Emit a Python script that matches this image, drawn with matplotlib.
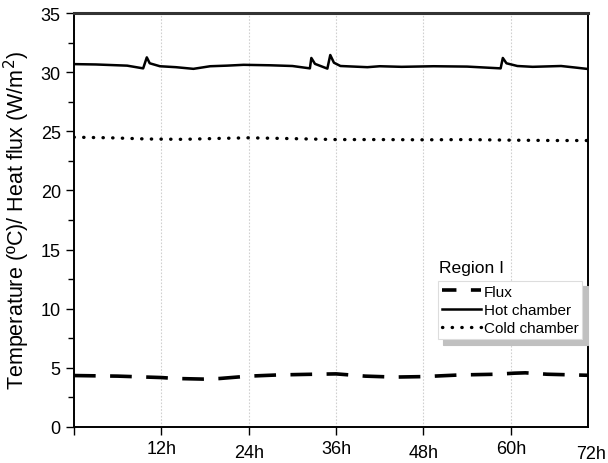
import matplotlib.pyplot as plt
from matplotlib.ticker import MultipleLocator
import matplotlib.transforms as mtransforms

plt.rcParams['font.family'] = ['Liberation Sans', 'DejaVu Sans']

# hot chamber temperature (degC), spikes are door openings
hot_t = [0, 3, 7.3, 9.5, 10.0, 10.4, 11.8, 14, 16.4, 18.7, 21, 23.3, 27, 30, 32.4, 32.6, 33.1, 34.8,
         35.2, 35.7, 36.6, 40.3, 42, 45, 49.4, 54, 58.6, 58.9, 59.4, 60.9, 63, 66.9, 69, 70.7]
hot_v = [30.68, 30.65, 30.55, 30.32, 31.25, 30.75, 30.5, 30.42, 30.28, 30.5, 30.55, 30.62, 30.58, 30.52,
         30.32, 31.2, 30.7, 30.3, 31.45, 30.8, 30.52, 30.42, 30.5, 30.45, 30.5, 30.47, 30.32, 31.2,
         30.75, 30.52, 30.45, 30.52, 30.38, 30.26]

# cold chamber temperature (degC)
cold_t = [0, 5, 10, 15, 20, 24, 30, 36, 42, 48, 54, 60, 66, 70.7]
cold_v = [24.5, 24.45, 24.35, 24.32, 24.4, 24.45, 24.38, 24.3, 24.3, 24.28, 24.3, 24.25, 24.22, 24.22]

# heat flux (W/m2)
flux_t = [0, 6, 12, 14, 17.7, 20, 24, 28, 32, 36, 40, 44, 48, 53, 58, 60.5, 62, 65, 70.7]
flux_v = [4.35, 4.3, 4.18, 4.1, 4.05, 4.1, 4.3, 4.4, 4.45, 4.49, 4.3, 4.22, 4.26, 4.4, 4.46, 4.55, 4.58,
          4.46, 4.37]

hour_ticks = [12, 24, 36, 48, 60]
hour_labels = ['12h', '24h', '36h', '48h', '60h']
x_end = 70.6

fig = plt.figure(figsize=(6.08, 4.64), dpi=100)
ax = fig.add_axes([0.1217, 0.0776, 0.8454, 0.8922])

ax.plot(flux_t, flux_v, color='black', lw=2.6, ls=(0, (6, 4)), label='Flux')
ax.plot(hot_t, hot_v, color='black', lw=1.8, ls='-', label='Hot chamber')
ax.plot(cold_t, cold_v, color='black', lw=2.4, ls=(0, (0.1, 2.8)), dash_capstyle='round', label='Cold chamber')

ax.set_xlim(0, x_end)
ax.set_ylim(0, 35)
ax.yaxis.set_major_locator(MultipleLocator(5))
ax.yaxis.set_minor_locator(MultipleLocator(2.5))
ax.set_xticks([0] + hour_ticks)
ax.set_xticklabels([''] + hour_labels)
ax.tick_params(axis='both', which='major', direction='out', length=6, width=1, labelsize=13, color='black')
ax.tick_params(axis='y', which='minor', direction='out', length=4, width=1)
ax.grid(axis='x', ls=(0, (1.5, 1.5)), color='#d0d0d0', lw=0.8)

# staggered tick labels like the original
offset = mtransforms.ScaledTranslation(0, -4 / 100, fig.dpi_scale_trans)
for i, lab in enumerate(ax.get_xticklabels()):
    if i in (2, 4):
        lab.set_transform(lab.get_transform() + offset)
ax.text(1.0, -0.0, '72h', transform=ax.transAxes + mtransforms.ScaledTranslation(3 / 100, -18 / 100, fig.dpi_scale_trans),
        ha='center', va='top', fontsize=13)

for side in ['left', 'bottom', 'right']:
    ax.spines[side].set_linewidth(1.4)
    ax.spines[side].set_color('black')
ax.spines['top'].set_linewidth(2.2)
ax.spines['top'].set_color('#333333')

ax.set_ylabel('Temperature (ºC)/ Heat flux (W/m$^2$)', fontsize=15.5, labelpad=6)

leg = ax.legend(loc='upper left', bbox_to_anchor=(0.708, 0.353), fontsize=11, frameon=True, fancybox=False,
                shadow={'ox': 4, 'oy': -4, 'color': '#c0c0c0', 'alpha': 1},
                handlelength=2.6, handletextpad=0.15, borderpad=0.25, labelspacing=0.28, borderaxespad=0)
leg.get_frame().set_edgecolor('#dddddd')
leg.get_frame().set_linewidth(0.8)
leg.get_lines()[0].set_dashes((4, 4))
ax.text(0.711, 0.375, 'Region I', transform=ax.transAxes, fontsize=12.6, ha='left', va='baseline')

fig.savefig('out.png', dpi=100)
